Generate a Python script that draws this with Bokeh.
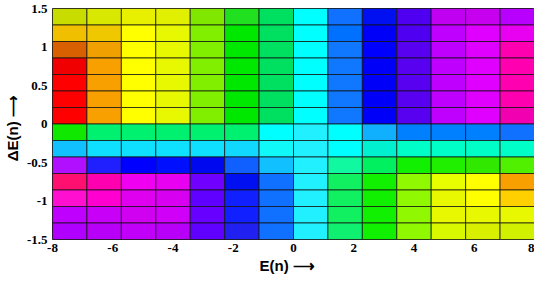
from bokeh.plotting import figure
from bokeh.models import ColumnDataSource, Range1d, FixedTicker
from bokeh.embed import file_html
from bokeh.resources import INLINE

# Grid: 14 columns spanning E(n) in [-8, 8], 14 rows spanning dE(n) in [-1.5, 1.5]
x_min, x_max = -8, 8
y_min, y_max = -1.5, 1.5
n_cols = 14
n_rows = 14

# Cell colours, rows listed from top (dE = 1.5) to bottom (dE = -1.5), columns left to right
row_01 = ["#c8dc00", "#d8e800", "#e8f000", "#e0f000", "#80e800", "#20e020", "#00e060",
          "#00ffff", "#1070ff", "#0010f0", "#5000f0", "#c000f0", "#c800f0", "#b800ff"]
row_02 = ["#f0c000", "#f0c800", "#ffff00", "#e8f800", "#80f000", "#00e800", "#00e060",
          "#00ffff", "#0070ff", "#0000f8", "#5000f0", "#c000ff", "#e000ff", "#e800f0"]
row_03 = ["#d86000", "#f0a000", "#ffff00", "#e8f800", "#80f000", "#00e800", "#00e060",
          "#00ffff", "#1078ff", "#0000ff", "#5800f0", "#c000ff", "#e000ff", "#ff00b0"]
row_04 = ["#f00000", "#f8a000", "#ffff00", "#e8f800", "#80f000", "#00e800", "#00e060",
          "#00ffff", "#1078ff", "#0000f8", "#5800f0", "#c000ff", "#e000ff", "#ff00b0"]
row_05 = ["#ff0000", "#f8a000", "#ffff00", "#e8f800", "#80f000", "#00e800", "#00e060",
          "#00ffff", "#1078ff", "#0000f8", "#5800f0", "#c000ff", "#e000ff", "#ff00b0"]
row_06 = ["#ff0000", "#f8a000", "#ffff00", "#e8f800", "#80f000", "#00e800", "#00e060",
          "#00ffff", "#1078ff", "#0000f8", "#5800f0", "#c000ff", "#e000ff", "#ff00b0"]
row_07 = ["#ff0000", "#f8a000", "#ffff00", "#e8f800", "#80f000", "#00e800", "#00e060",
          "#00ffff", "#1078ff", "#0000f8", "#5800f0", "#c000ff", "#e000ff", "#f000b0"]
row_08 = ["#10e800", "#00f070", "#00f070", "#00f070", "#00f070", "#00f070", "#00ffff",
          "#20f0ff", "#00ffff", "#10b0ff", "#0080ff", "#0080ff", "#0080ff", "#1070ff"]
row_09 = ["#10c0ff", "#10e0ff", "#10e0ff", "#10e0ff", "#10e0ff", "#10d8ff", "#10f8f8",
          "#20f0ff", "#00ffff", "#00f0d0", "#00ffc8", "#00ffc8", "#00ffc8", "#00ffc8"]
row_10 = ["#b010ff", "#2020ff", "#0000ff", "#0010ff", "#0008f0", "#1060ff", "#10c0ff",
          "#20f0ff", "#10f8a0", "#00f060", "#10f000", "#20f000", "#30e800", "#50f000"]
row_11 = ["#ff1070", "#ff00b0", "#f000f0", "#e800f0", "#7000ff", "#0010f0", "#1070ff",
          "#20f0ff", "#10f060", "#10f000", "#90f800", "#e8ff00", "#ffff00", "#f8a000"]
row_12 = ["#ff10d0", "#ff00d0", "#e000f0", "#d800f0", "#6000ff", "#1020ff", "#1070ff",
          "#20f0ff", "#10f060", "#10f000", "#90f800", "#e8f800", "#ffff00", "#ffd000"]
row_13 = ["#c000ff", "#c800f8", "#d000f0", "#d000f8", "#6800ff", "#1020ff", "#1070ff",
          "#20f0ff", "#10f060", "#10f000", "#90f800", "#e8f800", "#e8f800", "#e8f800"]
row_14 = ["#b000ff", "#b800f8", "#c000f8", "#b800f8", "#6000ff", "#2020f0", "#1070ff",
          "#20f0ff", "#10f070", "#10f000", "#90f800", "#d8f800", "#d8f000", "#d0f000"]

rows = [row_01, row_02, row_03, row_04, row_05, row_06, row_07,
        row_08, row_09, row_10, row_11, row_12, row_13, row_14]

x_ticks = [-8, -6, -4, -2, 0, 2, 4, 6, 8]
x_tick_labels = ["-8", "-6", "-4", "-2", "0", "2", "4", "6", "8"]
y_ticks = [-1.5, -1, -0.5, 0, 0.5, 1, 1.5]
y_tick_labels = ["-1.5", "-1", "-0.5", "0", "0.5", "1", "1.5"]

cw = (x_max - x_min) / n_cols
ch = (y_max - y_min) / n_rows
xs, ys, cs = [], [], []
for r, row in enumerate(rows):
    for c, col in enumerate(row):
        xs.append(x_min + (c + 0.5) * cw)
        ys.append(y_max - (r + 0.5) * ch)
        cs.append(col)
src = ColumnDataSource(dict(x=xs, y=ys, c=cs))

p = figure(width=534, height=276, output_backend="svg", toolbar_location=None,
           x_range=Range1d(x_min, x_max), y_range=Range1d(y_min, y_max),
           min_border_left=0, min_border_right=0, min_border_top=8, min_border_bottom=0)
p.rect(x="x", y="y", width=cw, height=ch, source=src, fill_color="c",
       line_color="#111111", line_alpha=0.75, line_width=1)

p.grid.visible = False
p.outline_line_color = "#222222"
p.outline_line_width = 1

for ax in (p.xaxis[0], p.yaxis[0]):
    ax.axis_line_color = None
    ax.major_tick_line_color = None
    ax.minor_tick_line_color = None
    ax.major_tick_out = 0
    ax.major_tick_in = 0
    ax.minor_tick_out = 0
    ax.minor_tick_in = 0
    ax.major_label_text_font = "Liberation Serif"
    ax.major_label_text_font_style = "bold"
    ax.major_label_text_font_size = "13px"
    ax.major_label_text_color = "black"
    ax.axis_label_text_font = "Liberation Sans"
    ax.axis_label_text_font_style = "bold"
    ax.axis_label_text_font_size = "15px"
    ax.axis_label_text_color = "black"

p.xaxis.ticker = FixedTicker(ticks=x_ticks)
p.xaxis.major_label_overrides = {t: l for t, l in zip(x_ticks, x_tick_labels)}
p.yaxis.ticker = FixedTicker(ticks=y_ticks)
p.yaxis.major_label_overrides = {t: l for t, l in zip(y_ticks, y_tick_labels)}
p.xaxis.major_label_standoff = 4
p.yaxis.major_label_standoff = 5
p.xaxis.axis_label = "E(n)    \u27f6"
p.yaxis.axis_label = "\u0394E(n)   \u27f6"
p.xaxis.axis_label_standoff = 2
p.yaxis.axis_label_standoff = 3

open("out.html", "w").write(file_html(p, INLINE))
